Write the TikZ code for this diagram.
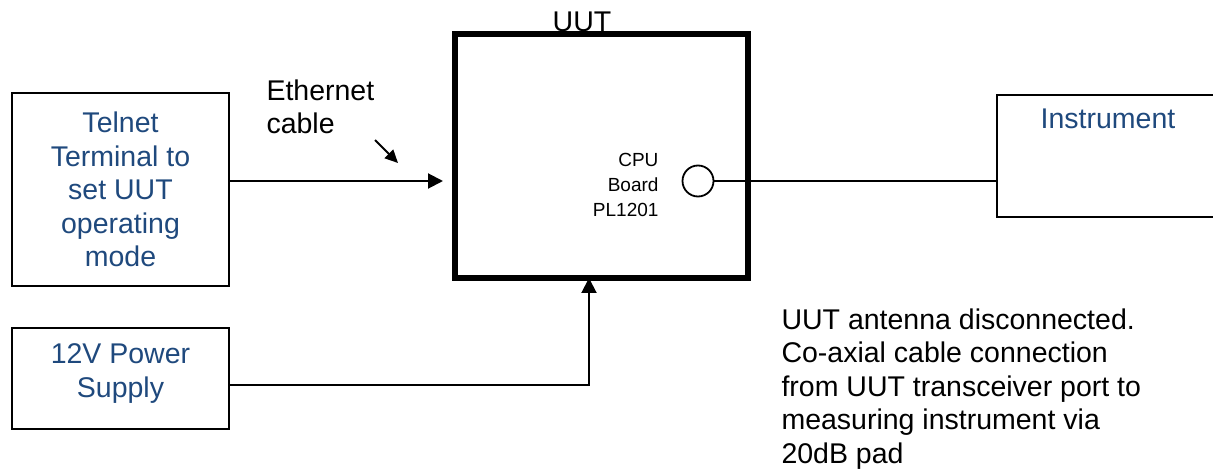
\documentclass[tikz,border=0pt]{standalone}
\usepackage{fontspec}
\setmainfont{Liberation Sans}
\usetikzlibrary{arrows.meta}
\definecolor{txtblue}{RGB}{31,73,125}
\begin{document}
\begin{tikzpicture}[x=1pt,y=-1pt,
  box/.style={draw, line width=1.5pt, inner sep=0pt},
  bigfont/.style={font=\fontsize{28.5}{33.5}\selectfont},
  smallfont/.style={font=\fontsize{19}{25}\selectfont},
  conn/.style={line width=2pt},
  arr/.style={conn, -{Triangle[length=15pt,width=15pt]}}]
\useasboundingbox (0,0) rectangle (1213,470);
% boxes
\node[box, minimum width=217pt, minimum height=193pt, bigfont, text=txtblue, align=center]
  (telnet) at (120.5,189.5) {Telnet\\Terminal to\\set UUT\\operating\\mode};
\node[box, minimum width=217pt, minimum height=101pt] (power) at (120.5,378.5) {};
\node[bigfont, text=txtblue, align=center] (powertxt) at (120.5,373.5) {12V Power\\Supply};
\node[draw, line width=6pt, minimum width=293pt, minimum height=244pt, inner sep=0pt]
  (uut) at (601.5,156) {};
\node[bigfont, anchor=base] (uutlbl) at (582,32) {UUT};
\node[box, minimum width=240pt, minimum height=122pt] (instr) at (1117,156) {};
\node[bigfont, text=txtblue] (instrtxt) at (1108,119) {Instrument};
\node[draw, circle, line width=1.8pt, minimum size=31pt, inner sep=0pt] (port) at (698,181) {};
\node[smallfont, align=right, anchor=east] (cpu) at (662,185) {CPU\\Board\\PL1201};
\node[bigfont, align=left, anchor=west] (eth) at (263,107) {Ethernet\\cable};
\node[bigfont, align=left, anchor=west] (note) at (778,389)
  {UUT antenna disconnected.\\Co-axial cable connection\\from UUT transceiver port to\\measuring instrument via\\20dB pad};
% connectors
\coordinate (ethtip) at (443,181);
\draw[arr] (telnet.east |- ethtip) -- (ethtip);
\coordinate (pa) at (375,140);
\coordinate (pb) at (398,163);
\draw[conn, -{Triangle[length=13pt,width=12pt]}] (pa) -- (pb);
\draw[conn] (port.east) -- (instr.west |- port.east);
\coordinate (bend) at (589,385);
\draw[arr] (power.east |- bend) -- (bend) -- ([yshift=3pt]uut.south -| bend);
\end{tikzpicture}
\end{document}
